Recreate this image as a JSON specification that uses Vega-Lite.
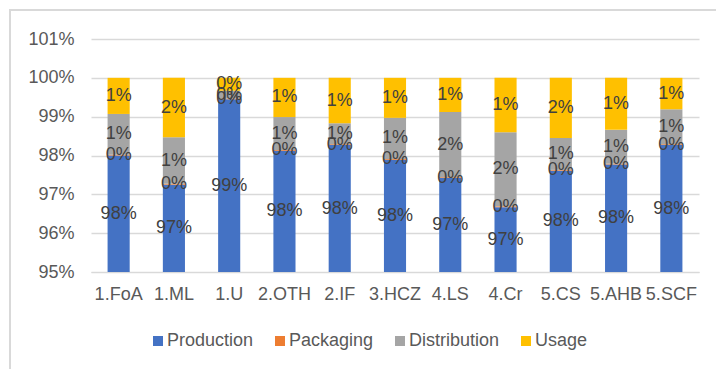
{
  "$schema": "https://vega.github.io/schema/vega-lite/v6.json",
  "width": 608,
  "height": 233,
  "autosize": {"type": "none"},
  "padding": {"left": 91, "top": 39, "right": 17, "bottom": 97},
  "background": "white",
  "config": {
    "font": "Liberation Sans",
    "view": {"stroke": null},
    "axis": {"labelFont": "Liberation Sans", "labelFontSize": 18, "labelColor": "#595959", "ticks": false, "tickSize": 0, "title": null},
    "legend": {"labelFont": "Liberation Sans", "labelFontSize": 18, "labelColor": "#595959"}
  },
  "data": {
    "values": [
      {"category": "1.FoA", "stage": "Production", "order": 1, "value": 0.9800},
      {"category": "1.FoA", "stage": "Packaging", "order": 2, "value": 0.0002},
      {"category": "1.FoA", "stage": "Distribution", "order": 3, "value": 0.0105},
      {"category": "1.FoA", "stage": "Usage", "order": 4, "value": 0.0093},
      {"category": "1.ML", "stage": "Production", "order": 1, "value": 0.9725},
      {"category": "1.ML", "stage": "Packaging", "order": 2, "value": 0.0002},
      {"category": "1.ML", "stage": "Distribution", "order": 3, "value": 0.0120},
      {"category": "1.ML", "stage": "Usage", "order": 4, "value": 0.0153},
      {"category": "1.U", "stage": "Production", "order": 1, "value": 0.9945},
      {"category": "1.U", "stage": "Packaging", "order": 2, "value": 0.0002},
      {"category": "1.U", "stage": "Distribution", "order": 3, "value": 0.0020},
      {"category": "1.U", "stage": "Usage", "order": 4, "value": 0.0033},
      {"category": "2.OTH", "stage": "Production", "order": 1, "value": 0.9812},
      {"category": "2.OTH", "stage": "Packaging", "order": 2, "value": 0.0002},
      {"category": "2.OTH", "stage": "Distribution", "order": 3, "value": 0.0085},
      {"category": "2.OTH", "stage": "Usage", "order": 4, "value": 0.0101},
      {"category": "2.IF", "stage": "Production", "order": 1, "value": 0.9827},
      {"category": "2.IF", "stage": "Packaging", "order": 2, "value": 0.0002},
      {"category": "2.IF", "stage": "Distribution", "order": 3, "value": 0.0054},
      {"category": "2.IF", "stage": "Usage", "order": 4, "value": 0.0117},
      {"category": "3.HCZ", "stage": "Production", "order": 1, "value": 0.9789},
      {"category": "3.HCZ", "stage": "Packaging", "order": 2, "value": 0.0002},
      {"category": "3.HCZ", "stage": "Distribution", "order": 3, "value": 0.0106},
      {"category": "3.HCZ", "stage": "Usage", "order": 4, "value": 0.0103},
      {"category": "4.LS", "stage": "Production", "order": 1, "value": 0.9742},
      {"category": "4.LS", "stage": "Packaging", "order": 2, "value": 0.0002},
      {"category": "4.LS", "stage": "Distribution", "order": 3, "value": 0.0168},
      {"category": "4.LS", "stage": "Usage", "order": 4, "value": 0.0088},
      {"category": "4.Cr", "stage": "Production", "order": 1, "value": 0.9667},
      {"category": "4.Cr", "stage": "Packaging", "order": 2, "value": 0.0002},
      {"category": "4.Cr", "stage": "Distribution", "order": 3, "value": 0.0191},
      {"category": "4.Cr", "stage": "Usage", "order": 4, "value": 0.0140},
      {"category": "5.CS", "stage": "Production", "order": 1, "value": 0.9761},
      {"category": "5.CS", "stage": "Packaging", "order": 2, "value": 0.0002},
      {"category": "5.CS", "stage": "Distribution", "order": 3, "value": 0.0082},
      {"category": "5.CS", "stage": "Usage", "order": 4, "value": 0.0155},
      {"category": "5.AHB", "stage": "Production", "order": 1, "value": 0.9777},
      {"category": "5.AHB", "stage": "Packaging", "order": 2, "value": 0.0002},
      {"category": "5.AHB", "stage": "Distribution", "order": 3, "value": 0.0087},
      {"category": "5.AHB", "stage": "Usage", "order": 4, "value": 0.0134},
      {"category": "5.SCF", "stage": "Production", "order": 1, "value": 0.9827},
      {"category": "5.SCF", "stage": "Packaging", "order": 2, "value": 0.0002},
      {"category": "5.SCF", "stage": "Distribution", "order": 3, "value": 0.0090},
      {"category": "5.SCF", "stage": "Usage", "order": 4, "value": 0.0081}
    ]
  },
  "transform": [
    {"stack": "value", "groupby": ["category"], "sort": [{"field": "order", "order": "ascending"}], "as": ["v0", "v1"]}
  ],
  "resolve": {"scale": {"y": "independent"}},
  "layer": [
    {
      "mark": {"type": "rect", "fill": null, "stroke": "#d9d9d9", "strokeWidth": 2, "xOffset": -81, "yOffset": -29, "x2Offset": 60, "y2Offset": 200},
      "encoding": {
        "x": {"value": 0},
        "x2": {"value": "width"},
        "y": {"value": 0},
        "y2": {"value": "height"}
      }
    },
    {
      "mark": {"type": "bar"},
      "encoding": {
        "x": {
          "field": "category", "type": "nominal", "sort": null,
          "scale": {"paddingInner": 0.6, "paddingOuter": 0.3},
          "axis": {"labelAngle": 0, "labelPadding": 13, "domain": true, "domainColor": "#d9d9d9", "domainWidth": 1, "grid": false}
        },
        "y": {
          "field": "v0", "type": "quantitative",
          "scale": {"domain": [0.95, 1.01], "clamp": true, "nice": false, "zero": false},
          "axis": {"values": [0.95, 0.96, 0.97, 0.98, 0.99, 1.0, 1.01], "format": ".0%", "labelPadding": 17, "labelOverlap": false, "domain": false, "grid": true, "gridColor": "#d9d9d9", "gridWidth": 1.3}
        },
        "y2": {"field": "v1"},
        "color": {
          "field": "stage", "type": "nominal",
          "scale": {"domain": ["Production", "Packaging", "Distribution", "Usage"], "range": ["#4472C4", "#ED7D31", "#A5A5A5", "#FFC000"]},
          "legend": {"orient": "none", "legendX": 58, "legendY": 293, "direction": "horizontal", "title": null, "symbolType": "square", "symbolSize": 100, "symbolStrokeWidth": 0, "symbolOpacity": 1, "columnPadding": 17, "labelOffset": 0, "padding": 0}
        }
      }
    },
    {
      "transform": [
        {"filter": {"field": "stage", "oneOf": ["Packaging", "Distribution", "Usage"]}},
        {"fold": ["v0", "v1"], "as": ["edge", "pos"]},
        {"aggregate": [{"op": "mean", "field": "pos", "as": "mid"}], "groupby": ["category", "stage", "value"]}
      ],
      "mark": {"type": "text", "fontSize": 18, "color": "#404040", "font": "Liberation Sans"},
      "encoding": {
        "x": {"field": "category", "type": "nominal", "sort": null},
        "y": {"field": "mid", "type": "quantitative", "scale": {"domain": [0.95, 1.01], "nice": false, "zero": false}, "axis": null},
        "text": {"field": "value", "type": "quantitative", "format": ".0%"}
      }
    },
    {
      "transform": [
        {"filter": {"field": "stage", "equal": "Production"}}
      ],
      "mark": {"type": "text", "fontSize": 18, "color": "#404040", "font": "Liberation Sans"},
      "encoding": {
        "x": {"field": "category", "type": "nominal", "sort": null},
        "y": {"field": "v1", "type": "quantitative", "scale": {"domain": [0.95, 1.07], "nice": false, "zero": false}, "axis": null},
        "text": {"field": "value", "type": "quantitative", "format": ".0%"}
      }
    }
  ]
}
